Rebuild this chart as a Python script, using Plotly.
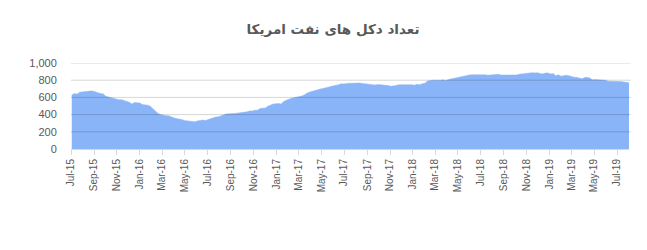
import pandas as pd
import plotly.graph_objects as go

title_text = "تعداد دکل های نفت امریکا"
start_date = "2015-07-03"
rig_counts = [
    628, 645, 638, 659, 664,
    670, 672, 674, 675,
    662, 652, 644, 641,
    614, 605, 595, 594, 578,
    572, 574, 564, 555,
    545, 524, 541, 538,
    536, 516, 515, 510, 498,
    467, 439, 413, 400,
    392, 386, 387, 372,
    362, 354, 351, 343, 332,
    328, 318, 318, 316,
    325, 328, 337, 330,
    341, 351, 357, 371, 374,
    381, 396, 406, 406,
    407, 414, 416, 418, 425,
    428, 432, 443, 441,
    450, 452, 471, 474,
    477, 498, 510, 523, 525,
    529, 522, 551, 566,
    583, 591, 597, 602,
    609, 617, 631, 652, 662,
    672, 683, 688, 697,
    703, 712, 720, 722,
    733, 741, 747, 758, 756,
    763, 765, 764, 766,
    765, 768, 763, 759,
    759, 756, 749, 744, 750,
    748, 743, 736, 737,
    729, 738, 738, 747,
    749, 751, 747, 747, 747,
    742, 752, 747, 759,
    765, 791, 798, 799,
    800, 796, 800, 804, 797,
    808, 815, 820, 825,
    834, 844, 844, 859,
    861, 862, 863, 862, 858,
    863, 863, 858, 861,
    859, 869, 869, 860, 860,
    860, 867, 866, 863,
    861, 869, 873, 875,
    874, 886, 888, 885, 887,
    877, 873, 883, 885,
    873, 877, 852, 862,
    847, 854, 857, 853,
    843, 834, 833, 824, 816,
    831, 833, 825, 805,
    807, 805, 802, 802, 800,
    789, 788, 789, 793,
    788, 784, 779, 776,
    770,
]
y_ticks = [0, 200, 400, 600, 800, 1000]

dates = pd.date_range(start=start_date, periods=len(rig_counts), freq="W-FRI")

fig = go.Figure()
fig.add_trace(go.Scatter(
    x=dates, y=rig_counts, mode="lines", fill="tozeroy",
    line=dict(color="#8AB4F8", width=0.5), fillcolor="#8AB4F8",
    hoverinfo="x+y", showlegend=False,
))

for v in y_ticks[1:]:
    fig.add_shape(type="line", xref="paper", x0=0, x1=1.003, yref="y", y0=v, y1=v,
                  line=dict(color="rgba(0,0,0,0.16)", width=1), layer="above")

fig.update_layout(
    width=647, height=250,
    margin=dict(l=71, r=18, t=63, b=101),
    paper_bgcolor="white", plot_bgcolor="white",
    title=dict(text="<b>" + title_text + "</b>", x=333 / 647, xanchor="center",
               y=1 - 29.5 / 250, yanchor="middle",
               font=dict(family="DejaVu Sans", size=13.5, color="#595959")),
    font=dict(family="Liberation Sans", color="#595959"),
)
fig.update_xaxes(
    type="date", range=["2015-07-01", dates[-1]],
    tick0="2015-07-01", dtick="M2", tickformat="%b-%y", tickangle=-90,
    ticks="outside", ticklen=5, tickcolor="#d9d9d9",
    showline=True, linecolor="#d9d9d9", showgrid=False, zeroline=False,
    tickfont=dict(size=10, color="#595959"),
)
fig.update_yaxes(
    range=[0, 1000], tickvals=y_ticks, tickformat=",",
    ticks="outside", ticklen=11, tickcolor="rgba(0,0,0,0)",
    showgrid=False, zeroline=False, showline=False,
    tickfont=dict(size=11, color="#595959"),
)

fig.write_html("out.html")
